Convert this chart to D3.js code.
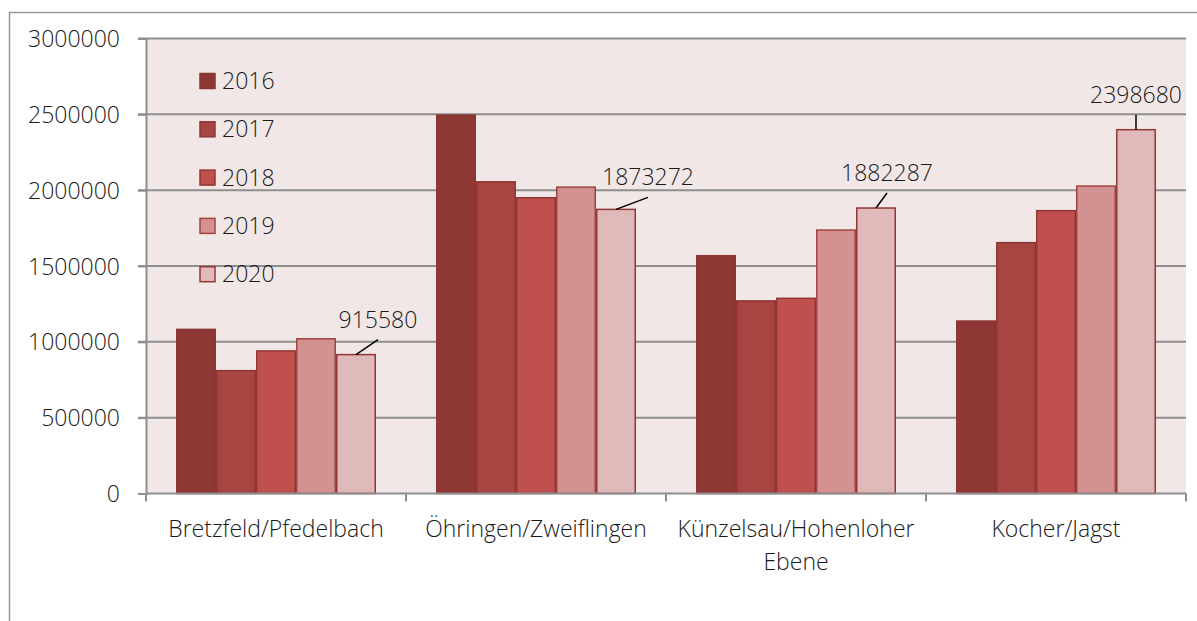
<!DOCTYPE html>
<html>
<head>
<meta charset="utf-8">
<script src="https://cdn.jsdelivr.net/npm/d3@7"></script>
<style>
  html, body { margin: 0; padding: 0; background: #ffffff; }
  svg { display: block; }
  text { font-family: "Open Sans", "DejaVu Sans", sans-serif; font-weight: 300; fill: #1a1a1a; }
</style>
</head>
<body>
<svg id="chart" width="1197" height="621"></svg>
<script>
// ---- data ----
const categories = ["Bretzfeld/Pfedelbach", "Öhringen/Zweiflingen", "Künzelsau/Hohenloher Ebene", "Kocher/Jagst"];
const years = ["2016", "2017", "2018", "2019", "2020"];
const values2016 = [1082000, 2495000, 1568000, 1137000];
const values2017 = [810000, 2055000, 1270000, 1654000];
const values2018 = [940000, 1950000, 1287000, 1865000];
const values2019 = [1020000, 2020000, 1737000, 2027000];
const values2020 = [915580, 1873272, 1882287, 2398680];
const yTicks = [0, 500000, 1000000, 1500000, 2000000, 2500000, 3000000];

const series = [values2016, values2017, values2018, values2019, values2020];

// ---- styles / layout ----
const fills = ["#8e3836", "#a84542", "#c0504d", "#d39291", "#e0baba"];
const strokes = ["#8a3533", "#8f3735", "#943634", "#a04442", "#943634"];
// label offsets (label centre relative to top-centre of the 2020 bar)
const labelOffsets = [[22, -35], [32, -32], [11, -35], [0, -35]];

const svg = d3.select("#chart");
const plot = { left: 146, right: 1186, top: 38.5, bottom: 493.5 };

// outer chart border
svg.append("path")
  .attr("d", `M9.5,621 V12.5 H1197`)
  .attr("fill", "none").attr("stroke", "#999").attr("stroke-width", 1.5);

// plot background
svg.append("rect")
  .attr("x", plot.left).attr("y", plot.top)
  .attr("width", plot.right - plot.left).attr("height", plot.bottom - plot.top)
  .attr("fill", "#f2e7e7");

const x0 = d3.scaleBand().domain(categories).range([plot.left, plot.right]).paddingInner(0.2308).paddingOuter(0.1154);
const x1 = d3.scaleBand().domain(years).range([0, x0.bandwidth()]).padding(0);
const y = d3.scaleLinear().domain([0, 3000000]).range([plot.bottom, plot.top]);

// gridlines
svg.append("g").selectAll("line").data(yTicks.filter(t => t > 0)).join("line")
  .attr("x1", 138).attr("x2", plot.right)
  .attr("y1", d => y(d)).attr("y2", d => y(d))
  .attr("stroke", "#8e8e8e").attr("stroke-width", 2);

// y axis
const yAxis = d3.axisLeft(y).tickValues(yTicks).tickSize(8).tickPadding(18).tickFormat(d3.format("d"));
const gy = svg.append("g").attr("transform", `translate(${plot.left},0)`).call(yAxis);
gy.select(".domain").attr("stroke", "#8e8e8e").attr("stroke-width", 2);
gy.selectAll(".tick line").attr("stroke", "#8e8e8e").attr("stroke-width", 2);
gy.selectAll(".tick text").style("font-size", "23px").style("font-family", "'Open Sans', sans-serif").style("font-weight", "300").attr("fill", "#1a1a1a").attr("dy", "0.35em");

// bars
const groups = svg.append("g").selectAll("g").data(categories).join("g")
  .attr("transform", d => `translate(${x0(d)},0)`);
groups.selectAll("rect")
  .data((c, ci) => years.map((yr, si) => ({ yr, si, v: series[si][ci] })))
  .join("rect")
  .attr("x", d => x1(d.yr) + 0.75)
  .attr("width", x1.bandwidth() - 1.5)
  .attr("y", d => y(d.v))
  .attr("height", d => y(0) - y(d.v))
  .attr("fill", d => fills[d.si])
  .attr("stroke", d => strokes[d.si])
  .attr("stroke-width", 1.5);

// x axis
const band = (plot.right - plot.left) / categories.length;
const gx = svg.append("g");
gx.append("line").attr("x1", plot.left).attr("x2", plot.right)
  .attr("y1", plot.bottom).attr("y2", plot.bottom)
  .attr("stroke", "#8e8e8e").attr("stroke-width", 2);
gx.selectAll("line.tk").data(d3.range(categories.length + 1)).join("line")
  .attr("class", "tk")
  .attr("x1", i => plot.left + i * band).attr("x2", i => plot.left + i * band)
  .attr("y1", plot.bottom).attr("y2", plot.bottom + 8)
  .attr("stroke", "#8e8e8e").attr("stroke-width", 2);

// category labels (wrapped)
const catLines = [["Bretzfeld/Pfedelbach"], ["Öhringen/Zweiflingen"], ["Künzelsau/Hohenloher", "Ebene"], ["Kocher/Jagst"]];
categories.forEach((c, i) => {
  const t = svg.append("text")
    .attr("x", x0(c) + x0.bandwidth() / 2)
    .attr("y", 537)
    .attr("text-anchor", "middle")
    .style("font-size", "23px");
  catLines[i].forEach((ln, k) => {
    t.append("tspan").attr("x", x0(c) + x0.bandwidth() / 2).attr("dy", k === 0 ? 0 : 32.5).text(ln);
  });
});

// data labels for 2020 with leader lines
categories.forEach((c, i) => {
  const v = values2020[i];
  const bx = x0(c) + x1("2020") + x1.bandwidth() / 2;
  const by = y(v);
  const lx = bx + labelOffsets[i][0];
  const ly = by + labelOffsets[i][1];
  svg.append("line")
    .attr("x1", bx).attr("y1", by)
    .attr("x2", lx).attr("y2", ly + 20)
    .attr("stroke", "#000").attr("stroke-width", 1.5);
  svg.append("text")
    .attr("x", lx).attr("y", ly).attr("dy", "0.35em")
    .attr("text-anchor", "middle")
    .style("font-size", "23px")
    .text(v);
});

// legend
const lg = svg.append("g");
years.forEach((yr, i) => {
  const cy = 81 + i * 48.3;
  lg.append("rect")
    .attr("x", 200).attr("y", cy - 7.5).attr("width", 15).attr("height", 15)
    .attr("fill", fills[i]).attr("stroke", strokes[i]).attr("stroke-width", 1.5);
  lg.append("text")
    .attr("x", 222).attr("y", cy).attr("dy", "0.35em")
    .style("font-size", "23px")
    .text(yr);
});
</script>
</body>
</html>
